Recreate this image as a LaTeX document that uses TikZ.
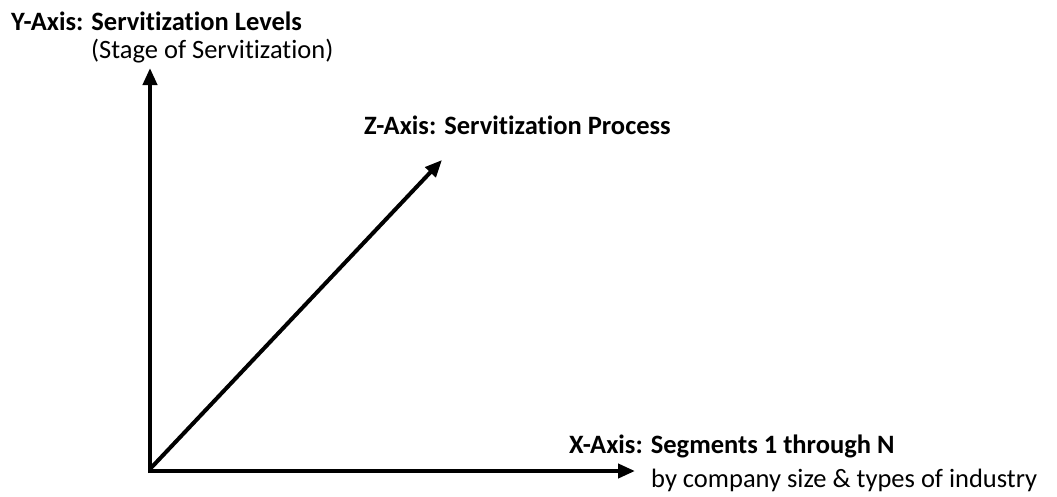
\documentclass[tikz,border=0pt]{standalone}
\usepackage{fontspec}
\setmainfont{Carlito}[Ligatures=NoCommon]
\usetikzlibrary{arrows.meta}
\begin{document}
\begin{tikzpicture}[x=1pt,y=-1pt,
  axis/.style={line width=4pt,-{Triangle[length=17pt,width=14pt]}},
  lbl/.style={anchor=base west,inner sep=0pt,font=\fontsize{26.5}{30}\selectfont},
  bold lbl/.style={lbl,font=\fontsize{26.5}{30}\selectfont\bfseries}]
\useasboundingbox (0,0) rectangle (1057,496);
% origin and axis end points
\coordinate (o) at (150,469);
\coordinate (oy) at (150,473);
\coordinate (ox) at (148,471);
\coordinate (ytip) at (150,68);
\coordinate (xtip) at (635,471);
\coordinate (ztip) at (442,160);
% axes
\draw[axis] (oy) -- (ytip);
\draw[axis] (ox) -- (xtip);
\draw[axis] (o) -- (ztip);
% labels
\node[bold lbl] (ylab) at (11,30) {Y-Axis: Servitization Levels};
\node[lbl] (ysub) at (91,58) {(Stage of Servitization)};
\node[bold lbl] (zlab) at (364,134) {Z-Axis: Servitization Process};
\node[bold lbl] (xlab) at (569,453) {X-Axis: Segments 1 through N};
\node[lbl] (xsub) at (651,487) {by company size \& types of industry};
\end{tikzpicture}
\end{document}
